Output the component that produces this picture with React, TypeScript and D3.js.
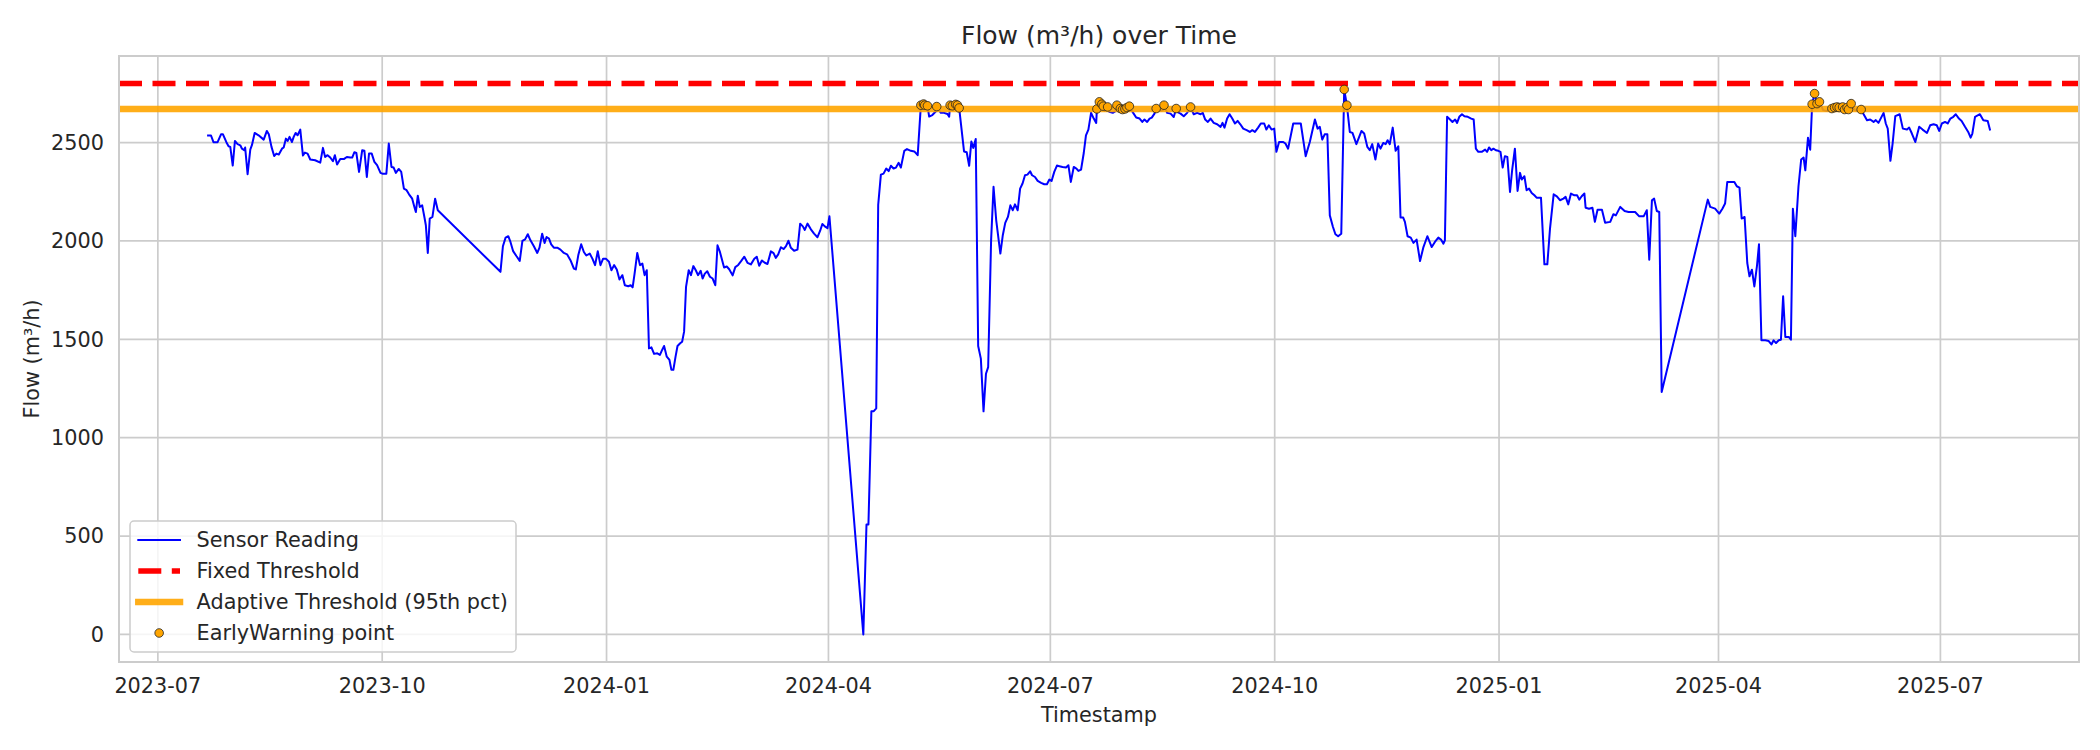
import React from "react";
import * as d3 from "d3";

// ---- data (day offsets from 2023-07-01, flow in m³/h) ----
const START_DATE = Date.UTC(2023, 6, 1);
const DAY_MS = 86400000;

const sensorDays = [
  20.6, 21.8, 22.8, 24.5, 25.9, 26.7, 28.1, 29.0, 29.7, 30.7, 31.6, 32.7, 33.8, 34.5, 35.4, 35.8, 36.8, 37.9, 38.6, 39.7,
  41.3, 43.4, 44.7, 45.5, 46.6, 47.7, 48.6, 49.6, 50.9, 51.6, 52.5, 53.2, 54.0, 55.0, 55.7, 56.5, 57.3, 58.4, 59.5, 60.3,
  61.4, 62.5, 64.5, 66.6, 67.7, 68.6, 69.6, 70.7, 71.8, 72.6, 73.5, 74.8, 76.4, 77.5, 78.9, 79.7, 80.6, 81.4, 82.5, 83.8,
  84.7, 85.7, 86.6, 87.7, 88.8, 89.9, 91.3, 92.3, 93.7, 94.7, 95.8, 96.7, 97.6, 98.8, 99.8, 100.9, 102.0, 103.0, 104.3, 105.2,
  105.8, 106.6, 107.4, 108.4, 109.3, 109.9, 110.7, 111.5, 112.6, 113.7, 114.8,
  140.5, 141.5, 142.6, 143.7, 144.6, 145.7, 147.1, 148.4, 149.5, 150.6, 151.7, 152.8, 154.2, 155.6, 156.5, 157.6, 158.6, 159.4,
  160.4, 161.3, 162.4, 163.8, 165.1, 166.5, 167.8, 169.2, 170.6, 171.4, 172.4, 173.6, 174.7, 175.7, 177.1, 178.2, 179.3, 180.4,
  181.5, 182.6, 183.7, 185.0, 186.0, 187.1, 188.2, 189.3, 190.5, 191.5, 192.9, 193.9, 194.7, 195.5, 196.6, 197.7, 198.7, 199.6,
  200.5, 201.4, 202.4, 203.5, 204.8, 205.9, 206.8, 207.6, 208.7, 209.8, 210.6, 211.4, 212.3, 213.1, 214.2, 215.0, 215.8, 216.6,
  217.7, 218.6, 219.6, 220.6, 221.5, 222.6, 223.4, 224.3, 225.3, 226.4, 227.5, 228.6, 229.5, 230.5,
  232.2, 233.3, 234.3, 235.7, 236.8, 238.0, 239.1, 240.5, 241.8, 243.2, 244.6, 245.6, 246.6, 247.7, 248.9, 250.0, 251.4, 252.5,
  253.4, 254.4, 255.5, 256.6, 257.6, 258.6, 259.6, 260.9, 262.3, 263.4, 264.5, 265.3, 266.4, 267.8, 269.1, 270.5, 271.6, 272.5,
  273.5, 274.6, 275.4, 289.3, 290.6, 291.4, 292.6, 293.5, 294.6, 295.4, 296.5, 297.6, 298.7, 299.7, 300.6, 301.7, 302.7, 303.8,
  304.7, 306.1, 307.2, 308.8, 310.2, 311.6, 312.9, 314.0, 314.5, 315.6, 316.3, 317.6, 319.0, 319.4, 321.1, 322.4, 323.8, 324.5,
  324.9, 325.8, 327.2, 327.9, 328.6, 330.6, 331.7, 332.7, 333.6, 334.4, 335.4, 336.4, 337.5, 338.6, 339.6, 340.5,
  341.7, 342.7, 343.8, 345.5, 346.5, 347.5, 348.6, 349.6, 350.6, 351.5, 352.6, 353.6, 354.6, 355.6, 356.6, 357.7, 358.5, 359.7,
  360.8, 362.2, 363.5, 364.6, 365.6, 366.5, 367.6, 368.7, 369.7, 371.0, 372.4, 373.4, 374.4, 375.6, 376.7, 377.5, 378.6, 379.7,
  380.6, 381.6, 382.7, 383.8, 384.8, 385.1, 386.1, 387.1, 387.7, 388.2, 389.5, 390.2, 391.6, 392.9, 393.3, 394.7, 395.6, 396.6,
  397.4, 398.4, 399.7, 401.2, 402.6, 403.7, 404.6, 405.7, 406.7, 407.6, 408.7, 409.4, 410.1, 412.1, 412.6, 413.9, 415.3, 416.6,
  417.6, 418.0, 419.4, 420.7, 422.1, 423.5, 424.8, 426.2, 427.6, 428.5, 429.5, 430.6, 431.7, 433.0, 434.4, 435.8, 436.6, 437.4,
  438.5, 439.5, 440.6, 441.7, 442.8, 443.9, 445.1, 446.5, 447.8, 448.8, 449.9, 451.2, 452.3, 453.7, 454.6, 455.6, 456.7, 457.8,
  458.7, 459.8, 461.5, 462.4, 463.5, 465.6, 467.3, 468.7,
  470.7, 472.4, 474.5, 475.6, 476.5, 477.5, 478.5, 479.6, 480.6, 481.9, 482.9, 484.0, 485.3, 486.5, 487.6, 488.8, 489.9, 491.5,
  493.6, 494.7, 496.0, 497.0, 498.0, 499.3, 500.4, 501.4, 502.5, 503.5, 504.3, 505.2, 506.4, 507.6, 508.7, 509.6, 510.7, 511.4,
  512.5, 513.8, 514.9, 516.2, 517.6, 519.0, 520.6, 522.4, 523.7, 525.1, 526.2, 527.2, 527.8, 528.7, 529.9, 530.9, 532.0, 532.8,
  533.7, 534.8, 535.8, 537.2, 538.6, 539.6, 540.5, 541.5, 542.9, 544.3, 545.1, 545.9, 546.8, 547.7, 548.7, 549.7, 550.6, 551.5,
  552.4, 553.4, 554.5, 555.4, 556.5, 557.6, 558.6, 559.3, 560.4, 561.3, 562.3, 563.4, 564.5, 565.4, 567.2, 568.6, 569.8, 570.9,
  572.4, 573.7, 575.0, 576.4, 577.3, 578.4, 579.5, 580.9, 582.0, 582.9, 583.9, 585.0, 585.5, 586.9, 588.3, 589.3, 590.4,
  592.2, 593.5, 595.6, 596.9, 597.9, 599.7, 601.5, 603.1, 605.8, 607.5, 609.3, 610.6, 611.6, 612.7, 613.6, 614.7, 615.7, 616.7,
  635.6, 636.6, 638.6, 640.3, 641.6, 642.7, 643.6, 644.7, 646.5, 647.5, 648.6, 649.5, 650.7, 651.8, 652.7, 653.7, 654.7, 655.8,
  656.6, 657.6, 659.2, 660.6, 661.7, 662.6, 663.6, 664.7, 665.6, 666.5, 667.4, 668.8, 669.7, 670.5, 671.5, 672.8, 673.9, 674.9,
  675.6, 676.7, 677.6, 678.4, 679.4, 680.4, 681.4, 682.9, 684.4, 686.5, 687.6, 688.6, 689.5, 690.9, 691.7, 692.7, 693.3, 694.4,
  695.9, 697.4, 698.5, 699.4, 700.9, 702.2, 703.6, 704.5, 705.6, 706.7, 707.7, 708.6, 709.4, 710.5, 711.4, 712.5, 714.3, 715.6,
  717.3, 718.2, 719.3, 720.7, 722.3, 723.7, 725.5, 726.8, 728.2, 729.5, 730.5, 731.6, 732.9, 734.0, 735.1, 736.3, 737.3, 738.6,
  739.7, 741.1, 742.4, 743.4, 744.1, 745.2, 747.2, 748.6, 750.4, 751.3,
];

const sensorFlow = [
  2536, 2536, 2502, 2502, 2542, 2542, 2502, 2481, 2478, 2383, 2508, 2492, 2486, 2469, 2461, 2475, 2339, 2464, 2488, 2549,
  2537, 2515, 2559, 2542, 2478, 2432, 2444, 2439, 2469, 2475, 2520, 2508, 2529, 2503, 2529, 2549, 2537, 2566, 2434, 2449,
  2444, 2414, 2410, 2398, 2473, 2427, 2436, 2424, 2405, 2436, 2388, 2417, 2417, 2427, 2424, 2424, 2451, 2447, 2351, 2461,
  2458, 2325, 2444, 2444, 2402, 2385, 2346, 2341, 2342, 2495, 2376, 2373, 2346, 2366, 2351, 2266, 2258, 2237, 2215, 2173,
  2147, 2230, 2173, 2181, 2122, 2080, 1939, 2114, 2122, 2215, 2156,
  1843, 1973, 2017, 2024, 1995, 1948, 1922, 1899, 2000, 2008, 2034, 2003, 1973, 1939, 1966, 2037, 1990, 2020,
  2012, 1983, 1966, 1966, 1956, 1939, 1932, 1902, 1860, 1855, 1927, 1983, 1944, 1926, 1936, 1910, 1877, 1948,
  1877, 1910, 1910, 1894, 1851, 1877, 1855, 1804, 1826, 1775, 1770, 1775, 1764, 1834, 1939, 1877, 1885, 1826,
  1851, 1454, 1459, 1426, 1429, 1421, 1446, 1466, 1412, 1395, 1345, 1345, 1412, 1466, 1480, 1488, 1539, 1767,
  1851, 1826, 1872, 1851, 1826, 1848, 1809, 1834, 1846, 1818, 1809, 1775, 1978, 1944,
  1865, 1870, 1856, 1825, 1867, 1878, 1896, 1920, 1889, 1881, 1910, 1920, 1874, 1901, 1889, 1883, 1947, 1938,
  1914, 1932, 1968, 1959, 1974, 2001, 1965, 1950, 1956, 2088, 2074, 2056, 2088, 2059, 2037, 2019, 2052, 2086,
  2074, 2065, 2125, 0, 559, 559, 1134, 1134, 1149, 2183, 2337, 2342, 2368, 2355, 2382, 2368, 2373, 2397,
  2373, 2458, 2467, 2458, 2455, 2436, 2690, 2696, 2690, 2687, 2632, 2640, 2658, 2683, 2651, 2651, 2645, 2632,
  2690, 2687, 2694, 2690, 2676, 2455, 2451, 2382, 2505, 2473, 2518, 1466, 1402, 1134, 1325, 1359,
  2003, 2275, 2105, 1936, 2029, 2092, 2122, 2181, 2156, 2186, 2156, 2266, 2292, 2334, 2337, 2354, 2334, 2325,
  2305, 2295, 2288, 2288, 2312, 2305, 2351, 2383, 2380, 2376, 2373, 2385, 2300, 2376, 2368, 2356, 2363, 2447,
  2537, 2566, 2651, 2622, 2600, 2671, 2707, 2695, 2685, 2661, 2681, 2656, 2651, 2661, 2690, 2673, 2668, 2671,
  2678, 2685, 2656, 2627, 2622, 2605, 2617, 2605, 2622, 2627, 2647, 2673, 2661, 2664, 2690, 2651, 2647, 2630,
  2673, 2656, 2647, 2634, 2651, 2681, 2644, 2651, 2644, 2651, 2617, 2605, 2622, 2600, 2593, 2580, 2600, 2576,
  2622, 2644, 2622, 2597, 2610, 2593, 2571, 2563, 2554, 2563, 2554, 2576, 2597, 2597, 2566, 2588, 2566, 2571,
  2453, 2503, 2503, 2495, 2469, 2597, 2597, 2597,
  2431, 2503, 2617, 2571, 2580, 2515, 2542, 2542, 2130, 2071, 2034, 2024, 2037, 2770, 2690, 2554, 2549, 2492,
  2559, 2546, 2478, 2461, 2492, 2414, 2495, 2469, 2498, 2492, 2512, 2492, 2576, 2458, 2481, 2119, 2119, 2097,
  2024, 2017, 1990, 2007, 1898, 1969, 2024, 1969, 1995, 2017, 2007, 1986, 2003, 2631, 2617, 2605, 2617, 2600,
  2631, 2644, 2634, 2631, 2622, 2617, 2469, 2453, 2453, 2464, 2453, 2475, 2461, 2469, 2461, 2458, 2453, 2373,
  2431, 2427, 2249, 2363, 2469, 2254, 2346, 2312, 2329, 2258, 2266, 2244, 2232, 2220, 2220, 1881, 1881, 2063,
  2237, 2227, 2207, 2215, 2224, 2186, 2241, 2232, 2232, 2210, 2227, 2241, 2169, 2164, 2169, 2097, 2159,
  2159, 2092, 2097, 2136, 2130, 2173, 2152, 2147, 2147, 2125, 2125, 2156, 1905, 2207, 2215, 2152, 2147, 1232,
  2210, 2173, 2164, 2139, 2164, 2190, 2300, 2300, 2300, 2278, 2271, 2114, 2122, 1888, 1820, 1854, 1769, 1876,
  1983, 1495, 1495, 1491, 1474, 1495, 1481, 1495, 1498, 1719, 1512, 1512, 1498, 2164, 2024, 2278, 2414, 2424,
  2359, 2525, 2464, 2695, 2749, 2698, 2707, 2665, 2660, 2673, 2678, 2681, 2678, 2681, 2668, 2678, 2668, 2698,
  2665, 2660, 2668, 2647, 2614, 2617, 2605, 2614, 2600, 2627, 2651, 2597, 2571, 2407, 2495, 2634, 2644, 2571,
  2566, 2576, 2546, 2503, 2580, 2566, 2549, 2588, 2593, 2588, 2559, 2597, 2605, 2597, 2622, 2631, 2644, 2622,
  2610, 2580, 2554, 2525, 2546, 2631, 2644, 2614, 2610, 2566,
];

const warningDays = [
  312.9, 314.0, 314.5, 315.6, 319.4, 324.9, 325.8, 327.2, 327.9, 328.6,
  385.1, 386.1, 387.1, 387.7, 389.5, 393.3, 394.7, 395.6, 396.6, 397.4, 398.4, 409.4, 412.6, 417.6, 423.5,
  486.5, 487.6,
  678.4, 679.4, 680.4, 681.4, 686.5, 687.6, 688.6, 689.5, 690.9, 691.7, 692.7, 693.3, 694.4, 698.5,
];
const warningFlow = [
  2690, 2696, 2690, 2687, 2683, 2690, 2687, 2694, 2690, 2676,
  2671, 2707, 2695, 2685, 2681, 2690, 2673, 2668, 2671, 2678, 2685, 2673, 2690, 2673, 2681,
  2770, 2690,
  2695, 2749, 2698, 2707, 2673, 2678, 2681, 2678, 2681, 2668, 2678, 2668, 2698, 2668,
];

const yTicks = [0, 500, 1000, 1500, 2000, 2500];
const FIXED_THRESHOLD = 2800;
const ADAPTIVE_THRESHOLD = 2670;
const legendLabels = [
  "Sensor Reading",
  "Fixed Threshold",
  "Adaptive Threshold (95th pct)",
  "EarlyWarning point",
];

// ---- layout ----
const W = 2100;
const H = 750;
const PL = 119;
const PR = 2079;
const PT = 56;
const PB = 662;
const FONT = "DejaVu Sans, Verdana, sans-serif";
const TEXT = "#262626";
const GRID = "#cccccc";
const MARKER_R = 4.3;

export default function App() {
  const toDate = (d: number) => new Date(START_DATE + d * DAY_MS);
  const sensor = sensorDays.map((d, i) => ({ t: toDate(d), v: sensorFlow[i] }));
  const warnings = warningDays.map((d, i) => ({ t: toDate(d), v: warningFlow[i] }));

  const tMin = +d3.min(sensor, (s) => s.t)!;
  const tMax = +d3.max(sensor, (s) => s.t)!;
  const tPad = (tMax - tMin) * 0.05;
  const x = d3
    .scaleUtc()
    .domain([new Date(tMin - tPad), new Date(tMax + tPad)])
    .range([PL, PR]);

  const vMin = Math.min(0, d3.min(sensorFlow)!);
  const vMax = Math.max(FIXED_THRESHOLD, d3.max(sensorFlow)!);
  const vPad = (vMax - vMin) * 0.05;
  const y = d3
    .scaleLinear()
    .domain([vMin - vPad, vMax + vPad])
    .range([PB, PT]);

  const xTicks = x.ticks(d3.utcMonth.every(3)!);
  const fmt = d3.utcFormat("%Y-%m");
  const line = d3
    .line<{ t: Date; v: number }>()
    .x((d) => x(d.t))
    .y((d) => y(d.v));

  // legend geometry
  const lgX = 130;
  const lgY = 521;
  const lgW = 386;
  const lgH = 131;
  const rowY = [540, 571, 602, 633];
  const hx0 = 138.3;
  const hx1 = 180;
  const textX = 196.6;

  return (
    <svg
      width={W}
      height={H}
      viewBox={`0 0 ${W} ${H}`}
      style={{ position: "fixed", left: 0, top: 0, background: "#ffffff" }}
      fontFamily={FONT}
    >
      <rect x={0} y={0} width={W} height={H} fill="#ffffff" />
      <defs>
        <clipPath id="plotclip">
          <rect x={PL} y={PT} width={PR - PL} height={PB - PT} />
        </clipPath>
      </defs>

      {/* grid */}
      {yTicks.map((t) => (
        <line key={"gy" + t} x1={PL} x2={PR} y1={y(t)} y2={y(t)} stroke={GRID} strokeWidth={1.7} />
      ))}
      {xTicks.map((t) => (
        <line key={"gx" + +t} x1={x(t)} x2={x(t)} y1={PT} y2={PB} stroke={GRID} strokeWidth={1.7} />
      ))}

      <g clipPath="url(#plotclip)">
        <path
          d={line(sensor) || ""}
          fill="none"
          stroke="#0000ff"
          strokeWidth={2}
          strokeLinejoin="round"
          strokeLinecap="square"
        />
        <line
          x1={PL}
          x2={PR}
          y1={y(FIXED_THRESHOLD)}
          y2={y(FIXED_THRESHOLD)}
          stroke="#ff0000"
          strokeWidth={5.5}
          strokeDasharray="23 10.5"
        />
        <line
          x1={PL}
          x2={PR}
          y1={y(ADAPTIVE_THRESHOLD)}
          y2={y(ADAPTIVE_THRESHOLD)}
          stroke="#ffa500"
          strokeOpacity={0.9}
          strokeWidth={6.5}
        />
        {warnings.map((w, i) => (
          <circle
            key={"w" + i}
            cx={x(w.t)}
            cy={y(w.v)}
            r={MARKER_R}
            fill="#ffa500"
            stroke="#222222"
            strokeWidth={0.8}
          />
        ))}
      </g>

      {/* spines */}
      <rect
        x={PL}
        y={PT}
        width={PR - PL}
        height={PB - PT}
        fill="none"
        stroke={GRID}
        strokeWidth={2}
      />

      {/* y tick labels */}
      {yTicks.map((t) => (
        <text
          key={"ty" + t}
          x={104}
          y={y(t) + 7.3}
          textAnchor="end"
          fontSize={20.8}
          fill={TEXT}
        >
          {t}
        </text>
      ))}
      {/* x tick labels */}
      {xTicks.map((t) => (
        <text
          key={"tx" + +t}
          x={x(t)}
          y={693}
          textAnchor="middle"
          fontSize={20.8}
          fill={TEXT}
        >
          {fmt(t)}
        </text>
      ))}

      {/* axis labels and title */}
      <text x={(PL + PR) / 2} y={722} textAnchor="middle" fontSize={20.8} fill={TEXT}>
        Timestamp
      </text>
      <text
        transform={`translate(38.5, ${(PT + PB) / 2}) rotate(-90)`}
        textAnchor="middle"
        fontSize={20.8}
        fill={TEXT}
      >
        Flow (m³/h)
      </text>
      <text x={(PL + PR) / 2} y={44} textAnchor="middle" fontSize={25} fill={TEXT}>
        Flow (m³/h) over Time
      </text>

      {/* legend */}
      <g>
        <rect
          x={lgX}
          y={lgY}
          width={lgW}
          height={lgH}
          rx={4}
          ry={4}
          fill="#ffffff"
          fillOpacity={0.8}
          stroke="#cccccc"
          strokeWidth={1.5}
        />
        <line x1={hx0} x2={hx1} y1={rowY[0]} y2={rowY[0]} stroke="#0000ff" strokeWidth={2} strokeLinecap="square" />
        <line
          x1={hx0}
          x2={hx1}
          y1={rowY[1]}
          y2={rowY[1]}
          stroke="#ff0000"
          strokeWidth={5.5}
          strokeDasharray="23 10.5"
        />
        <line
          x1={hx0}
          x2={hx1}
          y1={rowY[2]}
          y2={rowY[2]}
          stroke="#ffa500"
          strokeOpacity={0.9}
          strokeWidth={6.5}
          strokeLinecap="square"
        />
        <circle
          cx={(hx0 + hx1) / 2}
          cy={rowY[3]}
          r={MARKER_R}
          fill="#ffa500"
          stroke="#222222"
          strokeWidth={0.8}
        />
        {legendLabels.map((lab, i) => (
          <text key={lab} x={textX} y={rowY[i] + 7.3} fontSize={20.8} fill={TEXT}>
            {lab}
          </text>
        ))}
      </g>
    </svg>
  );
}
